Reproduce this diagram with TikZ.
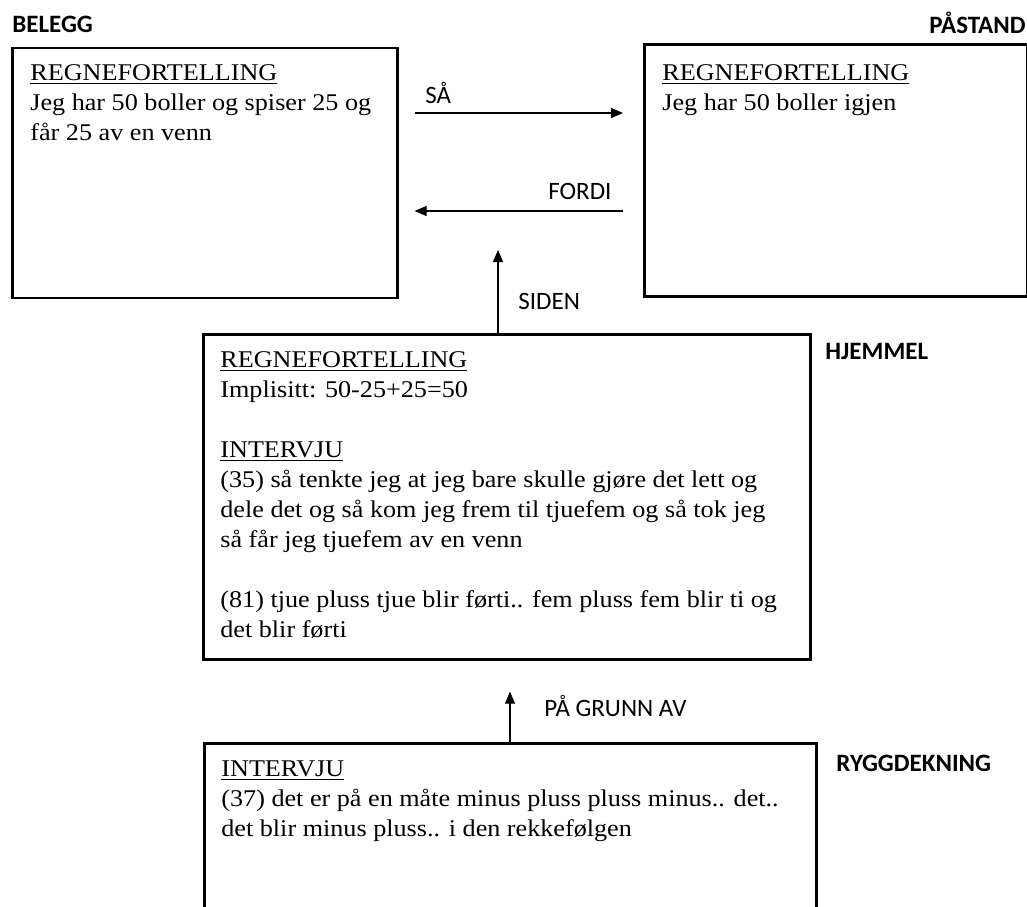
\documentclass[tikz,border=0pt]{standalone}
\usepackage{fontspec}
\setmainfont{Liberation Serif}[FakeStretch=1.09]
\newfontfamily\lblfont{Carlito}
\usepackage{tikz}
\usetikzlibrary{arrows.meta,positioning,calc}

\begin{document}
\begin{tikzpicture}[
    x=0.5pt, y=-0.5pt,
    box/.style={rectangle, draw, line width=1.3pt, anchor=north west, inner sep=0pt},
    boxtxt/.style={anchor=base west, align=left, inner sep=0pt, font=\fontsize{12}{15}\selectfont},
    role/.style={anchor=base west, inner sep=0pt, font=\lblfont\bfseries\fontsize{12.5}{15}\selectfont},
    conn/.style={anchor=base west, inner sep=0pt, font=\lblfont\fontsize{12.5}{15}\selectfont},
    arr/.style={-{Triangle[length=6pt,width=5pt]}, line width=0.6pt}
]
\useasboundingbox (0,0) rectangle (1027,906);

% the four boxes
\node[box, minimum width=192.5pt, minimum height=125pt] (belegg) at (11,46.5) {};
\node[box, minimum width=191.5pt, minimum height=126pt] (paastand) at (643,43) {};
\node[box, minimum width=303.5pt, minimum height=162.5pt] (hjemmel) at (202,333) {};
\node[box, minimum width=306pt, minimum height=90pt] (rygg) at (203,742) {};

% texts in the boxes (placed by the baseline of their last line)
\node[boxtxt] (belegg-txt) at (30,140) {\underline{REGNEFORTELLING}\\
Jeg har 50 boller og spiser 25 og\\
får 25 av en venn};
\node[boxtxt] (paastand-txt) at (662,110) {\underline{REGNEFORTELLING}\\
Jeg har 50 boller igjen};
\node[boxtxt] (hjemmel-txt) at (220,637) {\underline{REGNEFORTELLING}\\
Implisitt: 50-25+25=50\\[15pt]
\underline{INTERVJU}\\
(35) så tenkte jeg at jeg bare skulle gjøre det lett og\\
dele det og så kom jeg frem til tjuefem og så tok jeg\\
så får jeg tjuefem av en venn\\[15pt]
(81) tjue pluss tjue blir førti.. fem pluss fem blir ti og\\
det blir førti};
\node[boxtxt] (rygg-txt) at (221,836) {\underline{INTERVJU}\\
(37) det er på en måte minus pluss pluss minus.. det..\\
det blir minus pluss.. i den rekkefølgen};

% role labels
\node[role] (belegg-lbl) at (12,32) {BELEGG};
\node[role, anchor=base east] (paastand-lbl) at (1026,33) {PÅSTAND};
\node[role] (hjemmel-lbl) at (825,359) {HJEMMEL};
\node[role] (rygg-lbl) at (836,771) {RYGGDEKNING};

% connectors
\coordinate (siden-tip) at (498,250);
\draw[arr, shorten <=8pt, shorten >=10pt] (belegg.east |- 0,113) -- (paastand.west |- 0,113);
\draw[arr, shorten <=10pt, shorten >=8pt] (paastand.west |- 0,211) -- (belegg.east |- 0,211);
\draw[arr] (hjemmel.north -| siden-tip) -- (siden-tip);
\draw[arr, shorten >=15.5pt] (rygg.north -| 510,0) -- (hjemmel.south -| 510,0);

\node[conn] (saa) at (425,103) {SÅ};
\node[conn] (fordi) at (548,199) {FORDI};
\node[conn] (siden) at (518,309) {SIDEN};
\node[conn] (grunn) at (544,716) {PÅ GRUNN AV};
\end{tikzpicture}
\end{document}
